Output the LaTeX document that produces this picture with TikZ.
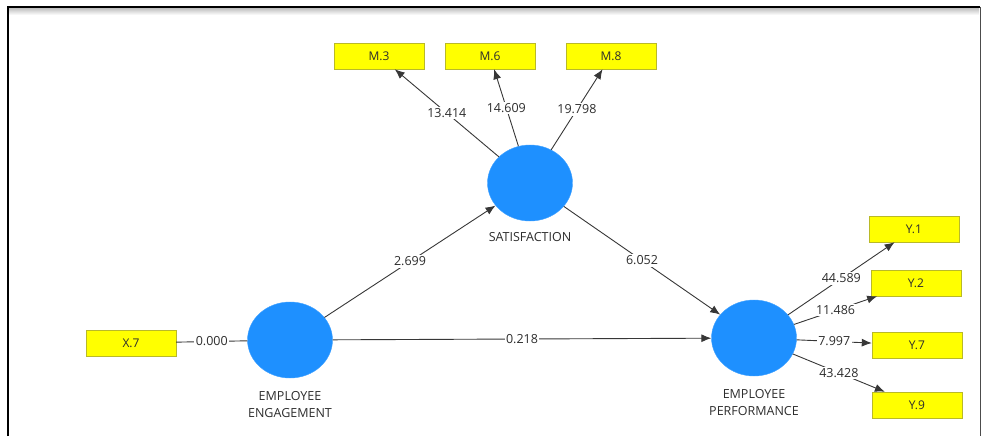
\documentclass[tikz,border=0pt]{standalone}
\usepackage{fontspec}
\setmainfont{Open Sans}
\usetikzlibrary{shapes.geometric,arrows.meta,positioning}
\definecolor{plsblue}{RGB}{30,144,255}
\definecolor{plsyellow}{RGB}{255,255,0}
\definecolor{boxline}{RGB}{185,185,40}
\definecolor{txtgrey}{RGB}{45,45,45}
\definecolor{linegrey}{RGB}{55,55,55}
\begin{document}
\begin{tikzpicture}[x=1pt,y=-1pt,
    latent/.style={ellipse,fill=plsblue,draw=plsblue!85!white,minimum width=85pt,minimum height=76pt,inner sep=0pt},
    indic/.style={rectangle,fill=plsyellow,draw=boxline,minimum width=90pt,minimum height=26pt,inner sep=0pt,font=\fontsize{12}{14}\selectfont,text=txtgrey},
    lbl/.style={font=\fontsize{12.5}{17}\selectfont,text=txtgrey,align=center},
    val/.style={fill=white,inner sep=1.5pt,font=\fontsize{12.5}{14}\selectfont,text=txtgrey},
    pline/.style={draw=linegrey,line width=0.9pt,-{Latex[length=10pt,width=8pt]}}]
                \useasboundingbox (0,0) rectangle (981,436);
                %%%  Frame of the window
                \shade[top color=black!25,bottom color=white] (9,8) rectangle (979,15);
                \draw[line width=2pt,color=black] (8,436) -- (8,7) -- (980,7);
                \draw[line width=0.8pt,color=black!70] (980,7) -- (980,436);
                %%%  Latent variables
                \node[latent] (sat) at (530,183) {};
                \node[latent] (ee) at (290,340) {};
                \node[latent] (ep) at (754,338) {};
                \node[lbl] (satlbl) at (530,237) {SATISFACTION};
                \node[lbl] (eelbl) at (290,405) {EMPLOYEE\\ENGAGEMENT};
                \node[lbl] (eplbl) at (754,403) {EMPLOYEE\\PERFORMANCE};
                %%%  Indicators
                \node[indic] (m3) at (379,56) {M.3};
                \node[indic] (m6) at (490,56) {M.6};
                \node[indic] (m8) at (611,56) {M.8};
                \node[indic] (x7) at (131,343) {X.7};
                \node[indic] (y1) at (914,229) {Y.1};
                \node[indic] (y2) at (916,283) {Y.2};
                \node[indic] (y7) at (917,345) {Y.7};
                \node[indic] (y9) at (917,405) {Y.9};
                %%%  Outer loadings
                \draw[pline] (sat) -- node[val] {13.414} (m3);
                \draw[pline] (sat) -- node[val] {14.609} (m6);
                \draw[pline] (sat) -- node[val] {19.798} (m8);
                \draw[pline,-] (x7) -- node[val] {0.000} (ee);
                \draw[pline] (ep) -- node[val] {44.589} (y1);
                \draw[pline] (ep) -- node[val] {11.486} (y2);
                \draw[pline] (ep) -- node[val] {7.997} (y7);
                \draw[pline] (ep) -- node[val] {43.428} (y9);
                %%%  Inner model paths
                \draw[pline] (ee) -- node[val] {2.699} (sat);
                \draw[pline] (sat) -- node[val] {6.052} (ep);
                \draw[pline] (ee) -- node[val] {0.218} (ep);
                % Note: values are t statistics of the bootstrap run.
\end{tikzpicture}
\end{document}
